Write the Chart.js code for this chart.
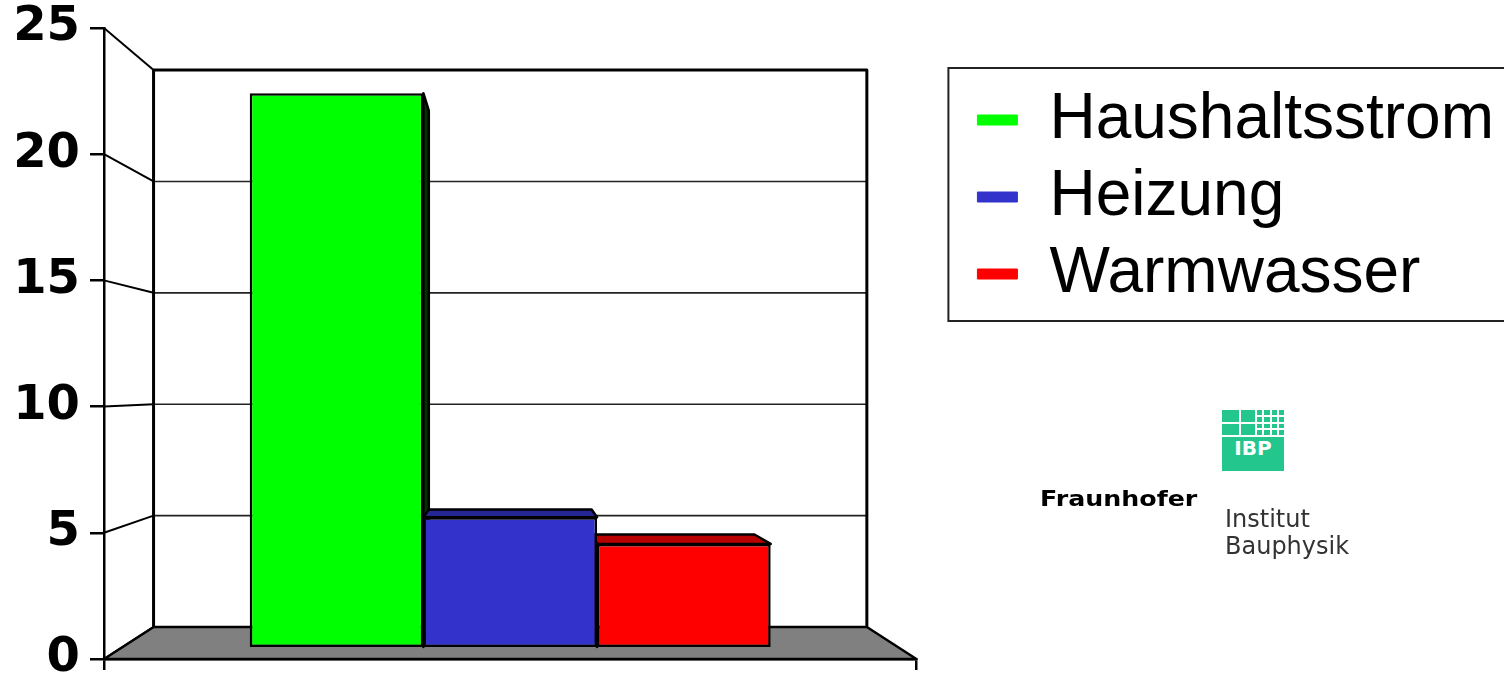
<!DOCTYPE html>
<html lang="de">
<head>
<meta charset="utf-8">
<title>Energieverbrauch</title>
<script src="https://cdn.jsdelivr.net/npm/chart.js@4.4.1/dist/chart.umd.min.js"></script>
<style>
  html, body { margin: 0; padding: 0; background: #fff; }
  #wrap { position: relative; width: 1504px; height: 677px; overflow: hidden; }
  canvas { display: block; }
  #logo { position: absolute; left: 0; top: 0; filter: blur(0.4px); }
  #ibp { position: absolute; left: 1222px; top: 410px; width: 62px; background: #fff; }
  #ibp .grid { display: flex; gap: 2px; height: 25px; }
  #ibp .big { display: grid; grid-template-columns: 17px 14px; grid-template-rows: 12px 11px; gap: 2px; }
  #ibp .small { flex: 1; display: grid; grid-template-columns: repeat(4, 1fr); grid-template-rows: repeat(4, 1fr); gap: 2px; }
  #ibp i { background: #23c78e; }
  #ibp .name { margin-top: 2px; height: 34px; background: #23c78e; color: #fff;
    font: bold 20px/22px 'DejaVu Sans'; text-align: center; }
  #fhg { position: absolute; left: 1040px; top: 488px; font: bold 22px/22px 'DejaVu Sans';
    color: #000; transform: scaleX(1.15); transform-origin: left top; white-space: nowrap; }
  #inst { position: absolute; left: 1225px; top: 506px; font: 24px/27px 'DejaVu Sans'; color: #333; }
</style>
</head>
<body>
<div id="wrap">
  <canvas id="chart" width="1504" height="677"></canvas>
  <div id="logo">
    <div id="ibp">
      <div class="grid">
        <div class="big"><i></i><i></i><i></i><i></i></div>
        <div class="small"><i></i><i></i><i></i><i></i><i></i><i></i><i></i><i></i><i></i><i></i><i></i><i></i><i></i><i></i><i></i><i></i></div>
      </div>
      <div class="name">IBP</div>
    </div>
    <div id="fhg">Fraunhofer</div>
    <div id="inst">Institut<br>Bauphysik</div>
  </div>
</div>
<script>
'use strict';

// ************************* CHART DATA **********************************
const categories = [''];
const seriesNames = ['Haushaltsstrom', 'Heizung', 'Warmwasser'];
const seriesValues = [22.9, 5.4, 4.3];
const seriesColors = ['#00ff00', '#3333cc', '#ff0000'];
const yTicks = [0, 5, 10, 15, 20, 25];

// ************************* 3D ROOM SETTINGS ****************************
// the back wall is a shrunken copy of the front plane, pulled toward the eye point
const BACK_SCALE_X = 0.878;
const BACK_SCALE_Y = 0.8827;
const EYE_LEVEL = 10.8;     // axis value where the vanishing point sits
const BAR_FRONT = 0.34;     // depth of the bar fronts (0 = front edge, 1 = back wall)
const BAR_BACK = 0.83;
const LEGEND_DROP = 47;

// ************************ HELPER FUNCTIONS ********************************
const shade = (hex, f) => {
  const n = parseInt(hex.slice(1), 16);
  const r = Math.round(((n >> 16) & 255) * f);
  const g = Math.round(((n >> 8) & 255) * f);
  const b = Math.round((n & 255) * f);
  return `rgb(${r}, ${g}, ${b})`;
};

const depthScale = depth => [1 - depth * (1 - BACK_SCALE_X), 1 - depth * (1 - BACK_SCALE_Y)];

const makeProjector = chart => {
  const area = chart.chartArea;
  const vx = (area.left + area.right) / 2;
  const vy = chart.scales.y.getPixelForValue(EYE_LEVEL);
  const at = (x, y, depth) => {
    const [sx, sy] = depthScale(depth);
    return [vx + (x - vx) * sx, vy + (y - vy) * sy];
  };
  return { vx, vy, at };
};

const polygon = (ctx, points) => {
  ctx.beginPath();
  points.forEach(([x, y], i) => (i ? ctx.lineTo(x, y) : ctx.moveTo(x, y)));
  ctx.closePath();
};

const line = (ctx, [x0, y0], [x1, y1]) => {
  ctx.beginPath();
  ctx.moveTo(x0, y0);
  ctx.lineTo(x1, y1);
  ctx.stroke();
};

// **************** ROOM PLUGIN: walls, floor, bar sides *************************
const room = {
  id: 'room',
  afterLayout(chart) {
    chart.legend.top += LEGEND_DROP;
    chart.legend.bottom += LEGEND_DROP;
  },
  beforeDraw(chart) {
    const ctx = chart.ctx;
    const { left, right, bottom } = chart.chartArea;
    const yScale = chart.scales.y;
    const { at } = makeProjector(chart);
    const top = yScale.getPixelForValue(yTicks[yTicks.length - 1]);
    const [wl, wt] = at(left, top, 1);
    const [wr, wb] = at(right, bottom, 1);

    ctx.save();
    ctx.lineJoin = 'round';
    // back wall with its grid
    ctx.fillStyle = '#fff';
    ctx.fillRect(wl, wt, wr - wl, wb - wt);
    ctx.strokeStyle = '#222';
    ctx.lineWidth = 1.6;
    yTicks.slice(1, -1).forEach(v => {
      const y = yScale.getPixelForValue(v);
      line(ctx, at(left, y, 1), at(right, y, 1));
    });
    ctx.strokeStyle = '#000';
    ctx.lineWidth = 3;
    ctx.beginPath();
    ctx.moveTo(wl, wb);
    ctx.lineTo(wl, wt);
    ctx.lineTo(wr, wt);
    ctx.lineTo(wr, wb);
    ctx.stroke();
    // floor
    polygon(ctx, [at(left, bottom, 0), at(right, bottom, 0), at(right, bottom, 1), at(left, bottom, 1)]);
    ctx.fillStyle = '#808080';
    ctx.fill();
    ctx.lineWidth = 2.5;
    ctx.stroke();
    // open side wall: one line per tick running back to the wall
    ctx.lineWidth = 2;
    yTicks.forEach(v => {
      const y = yScale.getPixelForValue(v);
      line(ctx, at(left, y, 0), at(left, y, 1));
    });
    ctx.restore();
  },
  beforeDatasetsDraw(chart) {
    const ctx = chart.ctx;
    const { vx, vy, at } = makeProjector(chart);
    ctx.save();
    ctx.strokeStyle = '#000';
    ctx.lineWidth = 2.5;
    ctx.lineJoin = 'round';
    chart.data.datasets.forEach((ds, i) => {
      const bar = chart.getDatasetMeta(i).data[0];
      const { x, y, base, width } = bar.getProps(['x', 'y', 'base', 'width'], true);
      const l = x - width / 2;
      const r = x + width / 2;
      if (y > vy) {
        polygon(ctx, [at(l, y, BAR_FRONT), at(r, y, BAR_FRONT), at(r, y, BAR_BACK), at(l, y, BAR_BACK)]);
        ctx.fillStyle = shade(ds.backgroundColor, 0.72);
        ctx.fill();
        ctx.stroke();
      }
      [l, r].forEach(edge => {
        if ((edge === r && r < vx) || (edge === l && l > vx)) {
          polygon(ctx, [at(edge, y, BAR_FRONT), at(edge, y, BAR_BACK), at(edge, base, BAR_BACK), at(edge, base, BAR_FRONT)]);
          ctx.fillStyle = shade(ds.backgroundColor, 0.2);
          ctx.fill();
          ctx.stroke();
        }
      });
    });
    ctx.restore();
    // front faces are drawn by Chart.js, pushed back to the bar depth
    const [sx, sy] = depthScale(BAR_FRONT);
    ctx.save();
    ctx.translate(vx, vy);
    ctx.scale(sx, sy);
    ctx.translate(-vx, -vy);
  },
  afterDatasetsDraw(chart) {
    chart.ctx.restore();
  },
  afterDraw(chart) {
    const ctx = chart.ctx;
    const lg = chart.legend;
    ctx.save();
    ctx.strokeStyle = '#222';
    ctx.lineWidth = 2;
    ctx.strokeRect(lg.left - 16, lg.top - 7, chart.width, 253);
    ctx.restore();
  }
};

// **************** BUILD CHART *************************
Chart.defaults.font.family = "'Liberation Sans', Arial, sans-serif";
Chart.defaults.color = '#000';

const datasets = seriesNames.map((name, i) => ({
  label: name,
  data: [seriesValues[i]],
  backgroundColor: seriesColors[i],
  borderColor: '#000',
  borderWidth: 2.6,
  borderSkipped: false,
  barPercentage: 1,
  categoryPercentage: 0.669
}));

new Chart(document.getElementById('chart'), {
  type: 'bar',
  data: { labels: categories, datasets },
  plugins: [room],
  options: {
    responsive: false,
    devicePixelRatio: 1,
    animation: false,
    events: [],
    layout: { padding: { top: 28, left: 0, right: 0, bottom: 0 } },
    scales: {
      x: {
        grid: { drawOnChartArea: false, tickLength: 11, color: '#000', lineWidth: 2.5 },
        border: { color: '#000', width: 2.5 },
        ticks: { display: false },
        afterFit(scale) {
          scale.height = 18;
          scale.paddingLeft = scale.paddingRight = 0;
        }
      },
      y: {
        min: yTicks[0],
        max: yTicks[yTicks.length - 1],
        afterBuildTicks(scale) { scale.ticks = yTicks.map(v => ({ value: v })); },
        grid: { drawOnChartArea: false, tickLength: 14, color: '#000', lineWidth: 2.5 },
        border: { color: '#000', width: 2.5 },
        ticks: {
          padding: 10,
          color: '#000',
          font: { family: "'DejaVu Sans'", weight: 'bold', size: 48, lineHeight: 0.7 }
        },
        afterFit(scale) {
          scale.width = 104;
          scale.paddingTop = scale.paddingBottom = 0;
        }
      },
      gap: {
        type: 'linear',
        axis: 'y',
        position: 'right',
        grid: { display: false },
        border: { display: false },
        ticks: { display: false },
        afterFit(scale) { scale.width = 48; }
      }
    },
    plugins: {
      tooltip: { enabled: false },
      legend: {
        position: 'right',
        align: 'start',
        maxWidth: 541,
        labels: {
          boxWidth: 40,
          boxHeight: 10,
          padding: 13,
          color: '#000',
          font: { size: 64 },
          generateLabels(chart) {
            return Chart.defaults.plugins.legend.labels.generateLabels(chart)
              .map(item => ({ ...item, strokeStyle: item.fillStyle, lineWidth: 1 }));
          }
        }
      }
    }
  }
});
</script>
</body>
</html>
